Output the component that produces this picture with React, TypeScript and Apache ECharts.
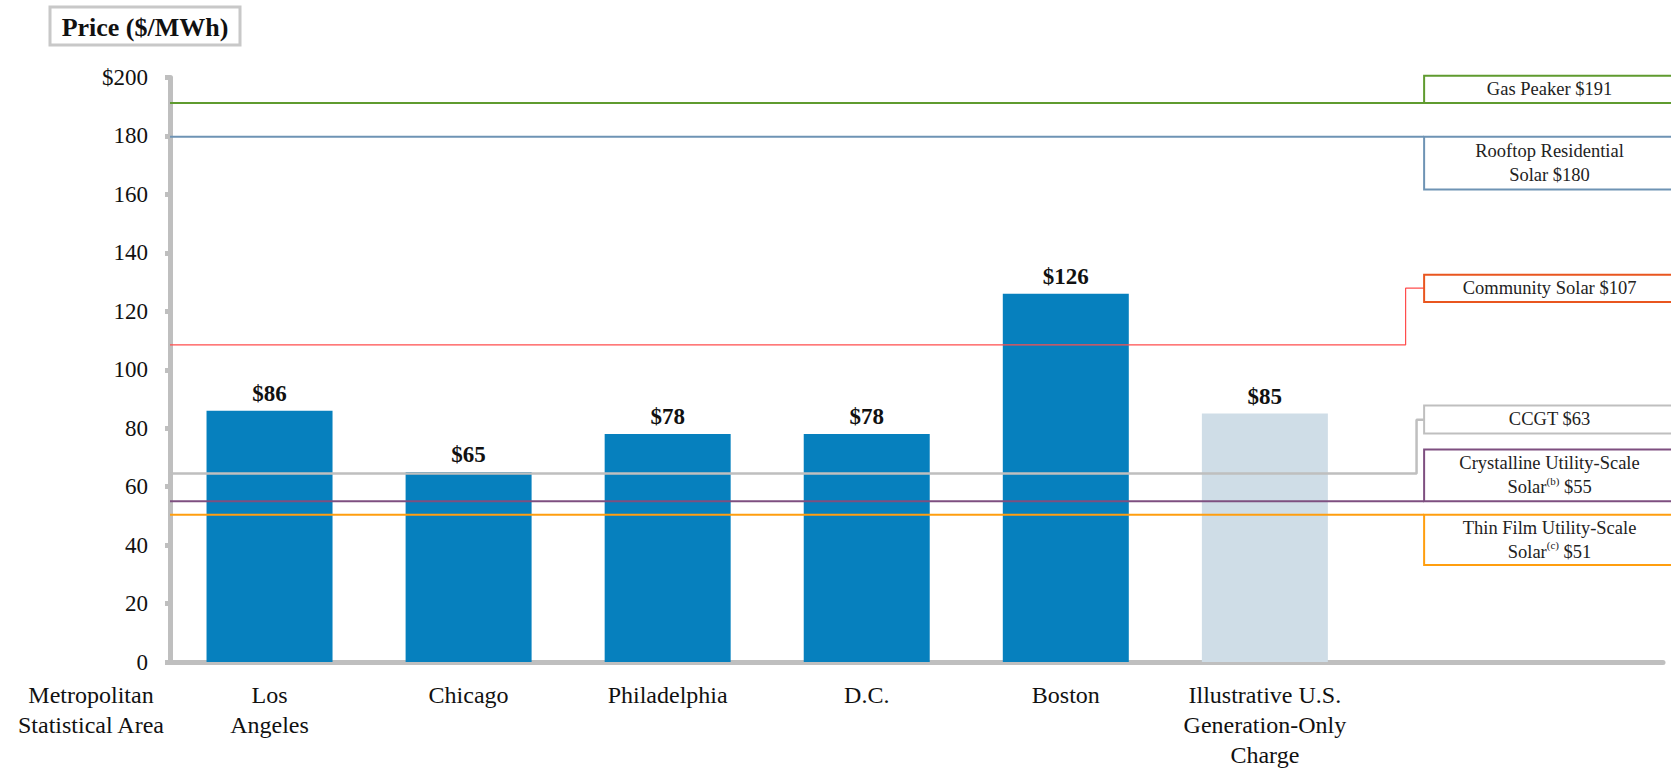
import React, { useEffect, useRef } from "react";
import * as echarts from "echarts";

// ---- data ----
const categories = [
  "Los\nAngeles",
  "Chicago",
  "Philadelphia",
  "D.C.",
  "Boston",
  "Illustrative U.S.\nGeneration-Only\nCharge",
];
const prices = [86, 65, 78, 78, 126, 85];
const yTickFirstLabel = "$200";

const refNames = [
  "Gas Peaker $191",
  "Rooftop Residential\nSolar $180",
  "Community Solar $107",
  "CCGT $63",
  "Crystalline Utility-Scale\nSolar{sup|(b)} $55",
  "Thin Film Utility-Scale\nSolar{sup|(c)} $51",
];
// level at which each reference line is drawn in the picture
const refLevels = [191.3, 179.7, 108.5, 64.5, 55, 50.4];

// ---- layout / style ----
const FONT = "'Liberation Serif', 'Times New Roman', serif";
const X_MAX = 7.5;
const BOX_X0 = 6.3;
const BOX_X1 = 7.56;
const refStyle = [
  { line: "#5F9B2F", box: "#5F9B2F", width: 2, top: 200.6, bottom: 191.3 },
  { line: "#6E93B4", box: "#6E93B4", width: 2, top: 179.7, bottom: 161.7 },
  { line: "#FF4D4D", box: "#E9561F", width: 1.2, top: 132.5, bottom: 123.2, elbowX: 6.207, mid: 127.9 },
  { line: "#BFBFBF", box: "#BFBFBF", width: 2.5, top: 87.8, bottom: 78.2, elbowX: 6.262, mid: 82.9 },
  { line: "#7E4F80", box: "#7E4F80", width: 2, top: 72.7, bottom: 55 },
  { line: "#FF9E0F", box: "#FF9E0F", width: 2, top: 50.4, bottom: 33.2 },
];
const BAR_COLOR = "#0680BE";
const BAR_LIGHT = "#CFDDE7";
const AXIS_COLOR = "#BFBFBF";
const CAT_FONT_SIZE = 24;
const CAT_MARGIN = 18;

export default function App() {
  const ref = useRef<HTMLDivElement>(null);
  useEffect(() => {
    const chart = echarts.init(ref.current!, null, { renderer: "svg" });

    const barData = prices.map((v, i) => ({
      value: [i + 0.5, v],
      itemStyle: { color: i === prices.length - 1 ? BAR_LIGHT : BAR_COLOR },
    }));

    const lineSeries = refLevels.map((lvl, i) => {
      const s = refStyle[i] as any;
      const data =
        s.elbowX !== undefined
          ? [[0, lvl], [s.elbowX, lvl], [s.elbowX, s.mid], [BOX_X0, s.mid]]
          : [[0, lvl], [BOX_X0, lvl]];
      return {
        type: "line",
        data,
        symbol: "none",
        silent: true,
        z: 5,
        lineStyle: { color: s.line, width: s.width },
        animation: false,
      };
    });

    chart.setOption({
      animation: false,
      grid: { left: 170, right: 8, top: 77.5, bottom: 105.5 },
      xAxis: {
        type: "value",
        min: 0,
        max: X_MAX,
        interval: 0.5,
        splitLine: { show: false },
        axisTick: { show: false },
        axisLine: { show: true, lineStyle: { color: AXIS_COLOR, width: 5 } },
        axisLabel: {
          margin: CAT_MARGIN,
          fontFamily: FONT,
          fontSize: CAT_FONT_SIZE,
          lineHeight: 30,
          color: "#111",
          showMinLabel: true,
          showMaxLabel: true,
          hideOverlap: false,
          formatter: (v: number) => {
            const k = Math.round(v * 2);
            if (k % 2 === 1) {
              const idx = (k - 1) / 2;
              return idx < categories.length ? categories[idx] : "";
            }
            return "";
          },
        },
      },
      yAxis: {
        type: "value",
        min: 0,
        max: 200,
        interval: 20,
        splitLine: { show: false },
        axisLine: { show: true, lineStyle: { color: AXIS_COLOR, width: 5 } },
        axisTick: { show: true, length: 5, lineStyle: { color: AXIS_COLOR, width: 5 } },
        axisLabel: {
          margin: 22,
          fontFamily: FONT,
          fontSize: 23,
          color: "#111",
          formatter: (v: number) => (v === 200 ? yTickFirstLabel : String(v)),
        },
      },
      series: [
        {
          type: "bar",
          data: barData,
          barWidth: 126,
          z: 2,
          label: {
            show: true,
            position: "top",
            distance: 6,
            fontFamily: FONT,
            fontSize: 23,
            fontWeight: "bold",
            color: "#111",
            formatter: (p: any) => "$" + p.value[1],
          },
        },
        ...lineSeries,
      ],
    });

    const toPx = (x: number, y: number) =>
      chart.convertToPixel({ gridIndex: 0 } as any, [x, y]) as number[];

    const graphics: any[] = [];
    // title box
    graphics.push({
      type: "rect",
      shape: { x: 50, y: 7, width: 190, height: 38 },
      style: { fill: "#fff", stroke: "#C8C8C8", lineWidth: 3 },
    });
    graphics.push({
      type: "text",
      x: 145,
      y: 27,
      style: {
        text: "Price ($/MWh)",
        font: `bold 26px ${FONT}`,
        fill: "#111",
        align: "center",
        verticalAlign: "middle",
        textAlign: "center",
        textVerticalAlign: "middle",
      },
    });
    // x-axis caption
    const axisY = toPx(0, 0)[1];
    graphics.push({
      type: "text",
      x: 91,
      y: axisY + CAT_MARGIN,
      style: {
        text: "Metropolitan\nStatistical Area",
        font: `${CAT_FONT_SIZE}px ${FONT}`,
        lineHeight: 30,
        fill: "#111",
        align: "center",
        verticalAlign: "top",
        textAlign: "center",
        textVerticalAlign: "top",
      },
    });
    // annotation boxes
    refStyle.forEach((s: any, i) => {
      const [x0, yTop] = toPx(BOX_X0, s.top);
      const [x1, yBot] = toPx(BOX_X1, s.bottom);
      graphics.push({
        type: "rect",
        z: 10,
        shape: { x: x0, y: yTop, width: x1 - x0, height: yBot - yTop },
        style: { fill: "#fff", stroke: s.box, lineWidth: 2 },
      });
      graphics.push({
        type: "text",
        z: 11,
        x: (x0 + x1) / 2,
        y: (yTop + yBot) / 2,
        style: {
          text: refNames[i],
          font: `18.5px ${FONT}`,
          fontFamily: FONT,
          fontSize: 18.5,
          lineHeight: 24,
          fill: "#222",
          align: "center",
          verticalAlign: "middle",
          textAlign: "center",
          textVerticalAlign: "middle",
          rich: {
            sup: {
              fontFamily: FONT,
              fontSize: 11,
              lineHeight: 11,
              verticalAlign: "top",
              fill: "#222",
            },
          },
        },
      });
    });
    chart.setOption({ graphic: graphics });

    return () => chart.dispose();
  }, []);

  return (
    <div
      ref={ref}
      style={{ position: "absolute", left: 0, top: 0, width: 1671, height: 770 }}
    />
  );
}
